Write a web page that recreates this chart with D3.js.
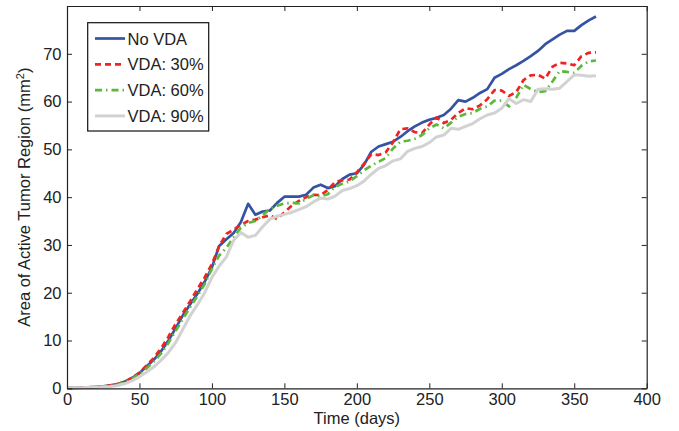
<!DOCTYPE html>
<html>
<head>
<meta charset="utf-8">
<script src="https://cdn.jsdelivr.net/npm/d3@7"></script>
<style>
  body { margin: 0; background: #fff; }
  svg { display: block; font-family: "Liberation Sans", Arial, Helvetica, sans-serif; }
</style>
</head>
<body>
<div id="chart"></div>
<script>
const days = d3.range(0, 366, 5)

const noVda = [0.1, 0.1, 0.15, 0.2, 0.3, 0.4, 0.6, 0.9, 1.4, 2.2, 3.2, 4.6, 6.0, 7.8, 10.0, 12.6, 15.3, 17.6, 19.8, 22.3,
    25.3, 29.8, 31.2, 32.5, 34.8, 38.6, 36.3, 37.0, 37.2, 38.8, 40.1, 40.1, 40.1, 40.5, 42.0, 42.6, 41.9, 42.3, 43.8, 44.7,
    45.0, 46.8, 49.5, 50.6, 51.1, 51.6, 52.6, 53.8, 54.8, 55.6, 56.2, 56.6, 57.2, 58.5, 60.3, 60.0, 60.8, 61.8, 62.6, 65.0,
    65.8, 66.8, 67.6, 68.5, 69.5, 70.6, 72.0, 73.0, 74.0, 74.8, 74.8, 76.0, 77.0, 77.8]

const vda30 = [0.1, 0.1, 0.15, 0.2, 0.3, 0.4, 0.6, 0.9, 1.4, 2.2, 3.3, 4.8, 6.4, 8.4, 10.8, 13.5, 15.8, 18.2, 20.8, 23.2,
    26.0, 29.8, 32.3, 33.2, 34.2, 35.0, 35.3, 35.8, 36.2, 35.4, 36.8, 38.2, 39.2, 40.0, 40.5, 40.4, 41.5, 43.2, 43.5, 43.7,
    45.2, 47.0, 49.0, 48.8, 49.4, 51.5, 54.2, 54.4, 53.6, 53.4, 55.2, 56.7, 55.5, 56.2, 57.6, 58.6, 58.4, 59.2, 60.5, 62.4,
    62.3, 61.2, 62.0, 64.5, 65.5, 65.6, 64.8, 67.3, 68.1, 68.0, 67.6, 69.5, 70.2, 70.3]

const vda60 = [0.1, 0.1, 0.15, 0.2, 0.3, 0.4, 0.5, 0.8, 1.3, 2.0, 3.0, 4.2, 5.6, 7.3, 9.5, 12.0, 14.5, 17.0, 19.3, 21.8,
    25.0, 27.8, 29.4, 31.6, 33.6, 34.6, 35.0, 36.2, 37.6, 38.2, 38.7, 38.8, 38.7, 39.6, 40.4, 40.2, 40.6, 42.2, 42.8, 43.3,
    44.4, 45.6, 46.6, 47.4, 48.2, 50.2, 51.6, 51.8, 52.2, 53.0, 54.4, 55.2, 54.4, 55.6, 56.8, 57.4, 57.6, 58.5, 59.0, 60.2,
    60.2, 59.0, 60.8, 63.5, 62.6, 62.0, 62.2, 64.2, 66.4, 66.2, 66.0, 67.5, 68.4, 68.6]

const vda90 = [0.1, 0.1, 0.1, 0.2, 0.25, 0.3, 0.4, 0.6, 1.0, 1.6, 2.4, 3.4, 4.5, 5.9, 7.5, 9.6, 12.4, 15.2, 17.5, 20.0,
    23.2, 25.6, 27.5, 31.0, 32.6, 31.6, 32.0, 33.8, 35.4, 36.0, 36.4, 36.8, 37.4, 38.0, 39.0, 39.8, 39.6, 40.2, 41.4, 41.8,
    42.4, 43.4, 44.8, 46.0, 46.6, 47.6, 48.0, 49.6, 50.2, 50.6, 51.4, 52.6, 53.0, 54.4, 54.2, 54.8, 55.4, 56.4, 57.2, 57.6,
    58.6, 60.6, 59.6, 60.4, 60.0, 62.6, 62.7, 62.6, 62.8, 64.2, 65.6, 65.5, 65.3, 65.4]

const seriesNames = ['No VDA', 'VDA: 30%', 'VDA: 60%', 'VDA: 90%']
const xTicks = [0, 50, 100, 150, 200, 250, 300, 350, 400]
const yTicks = [0, 10, 20, 30, 40, 50, 60, 70]

document.addEventListener('DOMContentLoaded', () => {
    const width = 679
    const height = 431
    const left = 67, right = 646.7, top = 6, bottom = 388.3

    const svg = d3.select('#chart')
        .append('svg')
        .attr('width', width)
        .attr('height', height)

    const x = d3.scaleLinear().domain([0, 400]).range([left, right])
    const y = d3.scaleLinear().domain([0, 80]).range([bottom, top])

    const styles = [
        { color: '#3552a3', width: 2.7, dash: null },
        { color: '#ee2424', width: 2.7, dash: '6,4' },
        { color: '#5db83a', width: 2.7, dash: '7,4,1.5,4' },
        { color: '#d2d2d2', width: 3, dash: null }
    ]
    const allSeries = [noVda, vda30, vda60, vda90]

    const line = d3.line()
        .x((d, i) => x(days[i]))
        .y(d => y(d))

    // curves
    svg.append('g')
        .selectAll('path')
        .data(allSeries)
        .enter()
        .append('path')
        .attr('d', line)
        .attr('fill', 'none')
        .attr('stroke', (d, i) => styles[i].color)
        .attr('stroke-width', (d, i) => styles[i].width)
        .attr('stroke-dasharray', (d, i) => styles[i].dash)
        .attr('stroke-linejoin', 'round')

    // axes (ticks inside, box all round)
    const tickLen = 5
    const axisColor = '#222'
    svg.append('g')
        .attr('transform', `translate(0, ${bottom})`)
        .call(d3.axisBottom(x).tickValues(xTicks).tickSizeInner(-tickLen).tickSizeOuter(0).tickPadding(5))
    svg.append('g')
        .attr('transform', `translate(${left}, 0)`)
        .call(d3.axisLeft(y).tickValues(yTicks).tickSizeInner(-tickLen).tickSizeOuter(0).tickPadding(5.5))
    svg.append('g')
        .attr('transform', `translate(0, ${top})`)
        .call(d3.axisTop(x).tickValues(xTicks).tickSizeInner(-tickLen).tickSizeOuter(0).tickFormat(''))
    svg.append('g')
        .attr('transform', `translate(${right}, 0)`)
        .call(d3.axisRight(y).tickValues(yTicks).tickSizeInner(-tickLen).tickSizeOuter(0).tickFormat(''))

    svg.selectAll('.domain').attr('stroke', axisColor).attr('stroke-width', 1.2)
    svg.selectAll('.tick line').attr('stroke', axisColor)
    svg.selectAll('.tick text')
        .attr('font-size', 16.5)
        .attr('font-family', '"Liberation Sans", Arial, sans-serif')
        .attr('fill', '#222')

    // axis titles
    svg.append('text')
        .attr('x', (left + right) / 2)
        .attr('y', 424)
        .attr('text-anchor', 'middle')
        .attr('font-size', 16.5)
        .attr('fill', '#222')
        .text('Time (days)')

    const yTitle = svg.append('text')
        .attr('transform', `translate(30, ${(top + bottom) / 2}) rotate(-90)`)
        .attr('text-anchor', 'middle')
        .attr('font-size', 16.5)
        .attr('fill', '#222')
    yTitle.append('tspan').text('Area of Active Tumor Region (mm')
    yTitle.append('tspan').attr('baseline-shift', 'super').attr('font-size', 11).text('2')
    yTitle.append('tspan').text(')')

    // legend
    const legend = svg.append('g')
    legend.append('rect')
        .attr('x', 87.7)
        .attr('y', 22.7)
        .attr('width', 121)
        .attr('height', 108.3)
        .attr('fill', '#fff')
        .attr('stroke', '#111')
        .attr('stroke-width', 1.2)

    const rows = legend.selectAll('.legend-row')
        .data(seriesNames)
        .enter()
        .append('g')
        .attr('class', 'legend-row')
        .attr('transform', (d, i) => `translate(0, ${38.5 + i * 25.8})`)

    rows.append('line')
        .attr('x1', 95)
        .attr('x2', 125)
        .attr('stroke', (d, i) => styles[i].color)
        .attr('stroke-width', (d, i) => styles[i].width)
        .attr('stroke-dasharray', (d, i) => styles[i].dash)

    rows.append('text')
        .attr('x', 127.5)
        .attr('y', 6)
        .attr('font-size', 16.5)
        .attr('fill', '#222')
        .text(d => d)
})
</script>
</body>
</html>
